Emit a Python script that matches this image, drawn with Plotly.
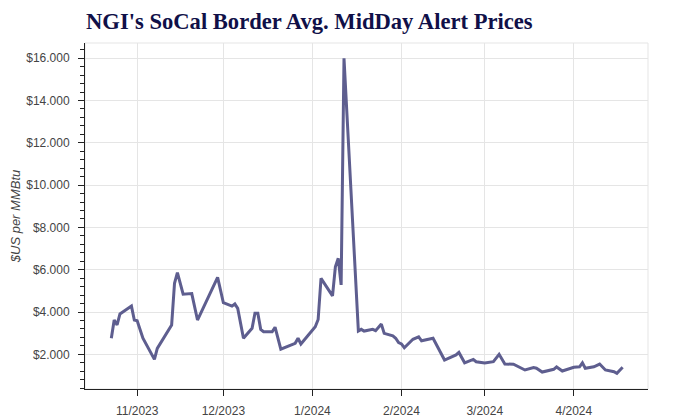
import plotly.graph_objects as go

dates = ["2023-10-23", "2023-10-24", "2023-10-25", "2023-10-26", "2023-10-30",
         "2023-10-31", "2023-11-01", "2023-11-03", "2023-11-07", "2023-11-08",
         "2023-11-13", "2023-11-14", "2023-11-15", "2023-11-17", "2023-11-20",
         "2023-11-22", "2023-11-29", "2023-12-01", "2023-12-04", "2023-12-05",
         "2023-12-06", "2023-12-08", "2023-12-11", "2023-12-12", "2023-12-13",
         "2023-12-14", "2023-12-15", "2023-12-18", "2023-12-19", "2023-12-21",
         "2023-12-26", "2023-12-27", "2023-12-28", "2024-01-02", "2024-01-03",
         "2024-01-04", "2024-01-08", "2024-01-09", "2024-01-10", "2024-01-11",
         "2024-01-12", "2024-01-17", "2024-01-18", "2024-01-19", "2024-01-22",
         "2024-01-23", "2024-01-25", "2024-01-26", "2024-01-29", "2024-01-30",
         "2024-01-31", "2024-02-01", "2024-02-02", "2024-02-05", "2024-02-07",
         "2024-02-08", "2024-02-12", "2024-02-14", "2024-02-16", "2024-02-20",
         "2024-02-21", "2024-02-23", "2024-02-26", "2024-02-27", "2024-03-01",
         "2024-03-04", "2024-03-06", "2024-03-08", "2024-03-11", "2024-03-15",
         "2024-03-18", "2024-03-19", "2024-03-21", "2024-03-25", "2024-03-26",
         "2024-03-28", "2024-04-01", "2024-04-03", "2024-04-04", "2024-04-05",
         "2024-04-08", "2024-04-10", "2024-04-12", "2024-04-15", "2024-04-16",
         "2024-04-18"]

prices = [2.76, 3.62, 3.39, 3.91, 4.28,
          3.62, 3.59, 2.76, 1.76, 2.28,
          3.39, 5.36, 5.86, 4.84, 4.87,
          3.62, 5.64, 4.44, 4.28, 4.38,
          4.17, 2.76, 3.23, 3.94, 3.94,
          3.18, 3.07, 3.07, 3.28, 2.24,
          2.52, 2.76, 2.49, 3.30, 3.65,
          5.59, 4.76, 6.14, 6.54, 5.28,
          16.0, 3.10, 3.18, 3.10, 3.18,
          3.12, 3.43, 2.99, 2.87, 2.76,
          2.55, 2.49, 2.31, 2.71, 2.83,
          2.64, 2.76, 2.28, 1.73, 1.97,
          2.09, 1.60, 1.76, 1.65, 1.59,
          1.65, 2.00, 1.54, 1.53, 1.26,
          1.37, 1.34, 1.16, 1.29, 1.40,
          1.21, 1.39, 1.41, 1.60, 1.34,
          1.41, 1.54, 1.26, 1.18, 1.10,
          1.39]

title_text = "NGI's SoCal Border Avg. MidDay Alert Prices"
y_title = "$US per MMBtu"

W, H = 672, 410  # page adds an 8px body margin

fig = go.Figure()
fig.add_trace(go.Scatter(
    x=dates, y=prices, mode="lines",
    line=dict(color="#5e5e8f", width=3),
    hoverinfo="x+y", showlegend=False,
))

fig.add_shape(type="rect", xref="paper", yref="paper", x0=0, y0=0, x1=1, y1=1,
              line=dict(color="#e5e5e5", width=1), layer="below")

fig.update_layout(
    width=W, height=H,
    margin=dict(l=77, r=32, t=35, b=29),
    paper_bgcolor="white", plot_bgcolor="white",
    title=dict(text="<b>" + title_text + "</b>", x=78 / W, xanchor="left",
               y=1 - 13 / H, yanchor="middle",
               font=dict(family="Liberation Serif", size=22.6, color="#101048")),
    font=dict(family="Liberation Sans, Arial", size=12, color="#444444"),
)

fig.update_xaxes(
    type="date",
    range=["2023-10-13 20:00", "2024-04-26 20:00"],
    tickvals=["2023-11-01", "2023-12-01", "2024-01-01", "2024-02-01", "2024-03-01", "2024-04-01"],
    tickformat="%-m/%Y",
    showgrid=True, gridcolor="#e5e5e5", gridwidth=1,
    showline=True, linecolor="#222222", linewidth=1,
    ticks="outside", ticklen=6, tickcolor="#222222",
    ticklabelstandoff=5,
    zeroline=False, automargin=False,
    tickfont=dict(size=12, color="#444444"),
)

fig.update_yaxes(
    range=[0.36, 16.72],
    tick0=0, dtick=2,
    tickprefix="$", tickformat=".3f",
    showgrid=True, gridcolor="#e5e5e5", gridwidth=1,
    showline=True, linecolor="#222222", linewidth=1,
    ticks="outside", ticklen=6, tickcolor="#222222",
    ticklabelstandoff=6,
    minor=dict(ticks="outside", ticklen=4, dtick=0.4, tick0=0, tickcolor="#222222", showgrid=False),
    zeroline=False, automargin=False,
    tickfont=dict(size=12, color="#444444"),
    title=dict(text="<i>" + y_title + "</i>", font=dict(size=13, color="#444444"), standoff=5),
)

fig.write_html("out.html")
